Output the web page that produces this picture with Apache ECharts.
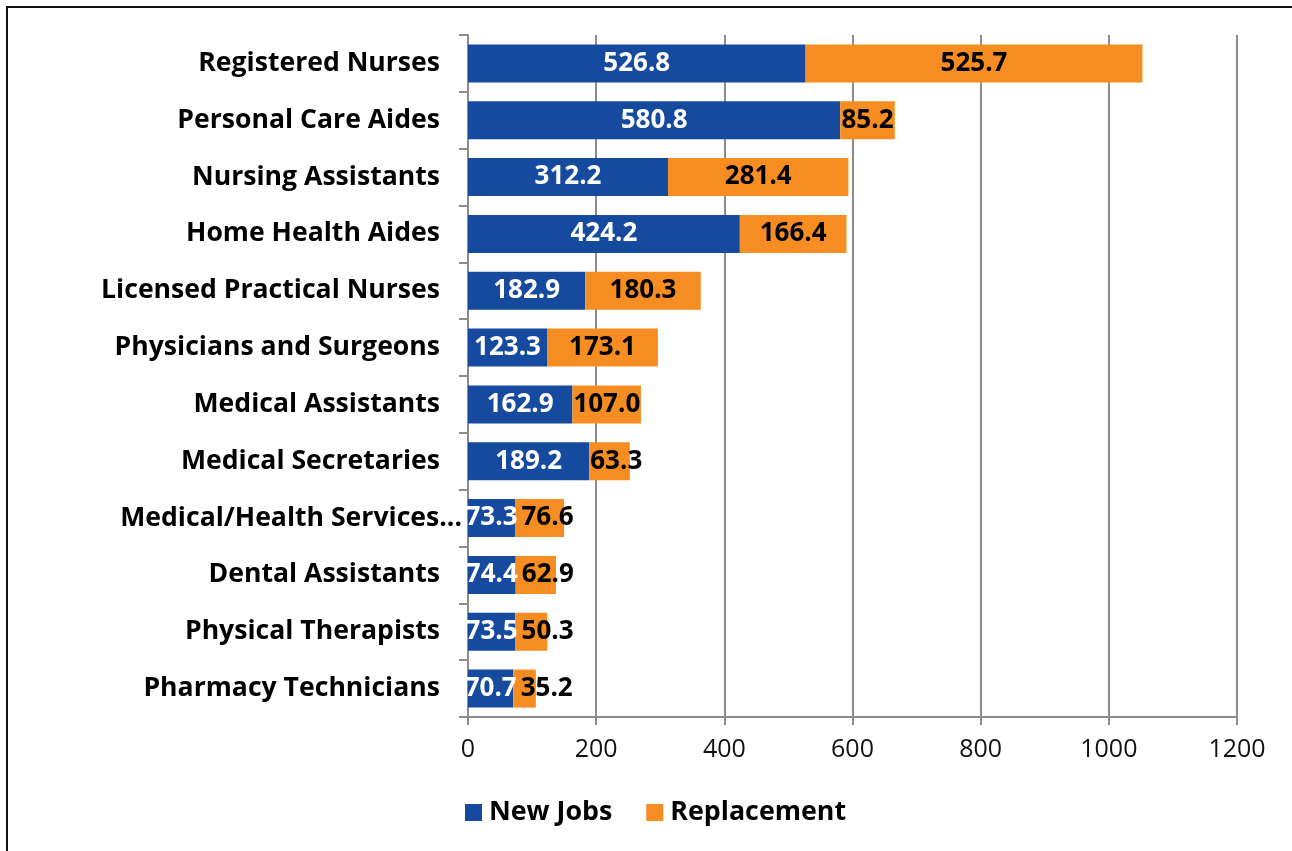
<!DOCTYPE html>
<html>
<head>
<meta charset="utf-8">
<script src="https://cdn.jsdelivr.net/npm/echarts@6/dist/echarts.min.js"></script>
<style>
  html, body { margin: 0; padding: 0; background: #fff; }
  #frame {
    position: absolute; left: 6px; top: 6px; width: 1290px; height: 860px;
    border: 2px solid #111; border-right-color: #bbb; box-sizing: border-box;
  }
  #chart { position: absolute; left: 0; top: 0; width: 1292px; height: 851px; }
</style>
</head>
<body>
<div id="frame"></div>
<div id="chart"></div>
<script>
const categories = [
  'Registered Nurses',
  'Personal Care Aides',
  'Nursing Assistants',
  'Home Health Aides',
  'Licensed Practical Nurses',
  'Physicians and Surgeons',
  'Medical Assistants',
  'Medical Secretaries',
  'Medical/Health Services...',
  'Dental Assistants',
  'Physical Therapists',
  'Pharmacy Technicians'
];
const newJobs = [526.8, 580.8, 312.2, 424.2, 182.9, 123.3, 162.9, 189.2, 73.3, 74.4, 73.5, 70.7];
const replacement = [525.7, 85.2, 281.4, 166.4, 180.3, 173.1, 107.0, 63.3, 76.6, 62.9, 50.3, 35.2];
const xTicks = [0, 200, 400, 600, 800, 1000, 1200];

const font = '"Open Sans", "Noto Sans", sans-serif';
const gridLeft = 468;
const chart = echarts.init(document.getElementById('chart'));

// the truncated label sits closer to the axis in the original
const yData = categories.map(c =>
  c.endsWith('...') ? { value: c, textStyle: { padding: [0, -22, 0, 0] } } : c
);

// keep a Replacement label from starting before its bar or running into the New Jobs label
function shiftReplacementLabel(params) {
  const r = params.rect, lr = params.labelRect;
  const blueCenter = (gridLeft + r.x) / 2;
  const blueRight = blueCenter + lr.width / 2;
  const minX = Math.max(r.x + 1, blueRight + 4);
  if (lr.x < minX) return { dx: minX - lr.x };
  return {};
}

chart.setOption({
  animation: false,
  textStyle: { fontFamily: font },
  grid: { left: gridLeft, right: 55, top: 35, bottom: 134, containLabel: false },
  legend: {
    bottom: 20,
    left: 460,
    itemWidth: 17,
    itemHeight: 17,
    itemGap: 34,
    icon: 'rect',
    textStyle: { fontFamily: font, fontSize: 26.8, fontWeight: 'bold', color: '#000', padding: [0, 0, 0, 2] },
    data: ['New Jobs', 'Replacement']
  },
  xAxis: {
    type: 'value',
    min: xTicks[0],
    max: xTicks[xTicks.length - 1],
    interval: 200,
    axisLine: { show: true, lineStyle: { color: '#8c8c8c', width: 2 } },
    axisTick: { show: true, length: 8, lineStyle: { color: '#8c8c8c', width: 2 } },
    axisLabel: { fontFamily: font, fontSize: 25, color: '#111', margin: 20, formatter: v => String(v) },
    splitLine: { show: true, lineStyle: { color: '#8c8c8c', width: 2 } }
  },
  yAxis: {
    type: 'category',
    inverse: true,
    data: yData,
    axisLine: { show: true, lineStyle: { color: '#8c8c8c', width: 2 } },
    axisTick: { show: true, length: 9, lineStyle: { color: '#8c8c8c', width: 2 } },
    axisLabel: { fontFamily: font, fontSize: 26.6, fontWeight: 'bold', color: '#000', margin: 28 }
  },
  series: [
    {
      name: 'New Jobs',
      type: 'bar',
      stack: 'total',
      barWidth: '67%',
      data: newJobs,
      itemStyle: { color: '#164A9F' },
      label: {
        show: true, position: 'inside', color: '#fff',
        fontFamily: font, fontSize: 26, fontWeight: 'bold',
        formatter: p => p.value.toFixed(1)
      }
    },
    {
      name: 'Replacement',
      type: 'bar',
      stack: 'total',
      data: replacement,
      itemStyle: { color: '#F68D22' },
      labelLayout: shiftReplacementLabel,
      label: {
        show: true, position: 'inside', color: '#000',
        fontFamily: font, fontSize: 26, fontWeight: 'bold',
        formatter: p => p.value.toFixed(1)
      }
    }
  ]
});
</script>
</body>
</html>
